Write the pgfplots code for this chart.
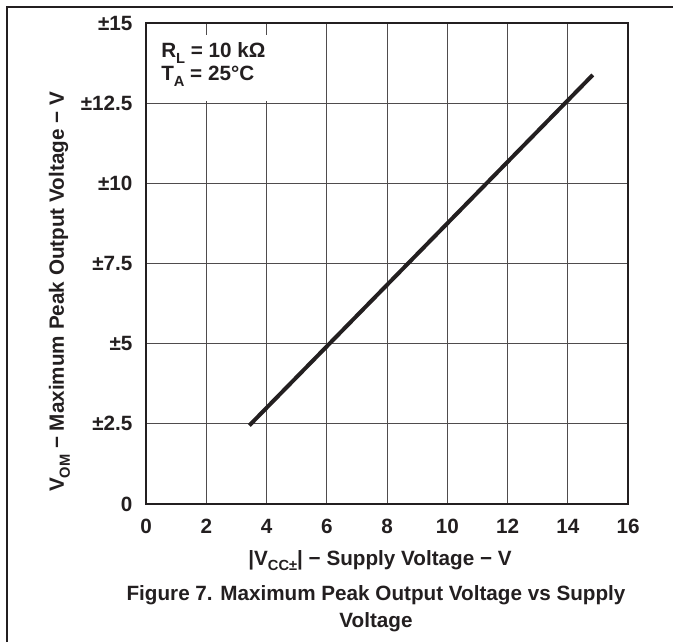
\documentclass[border=0pt]{standalone}
\usepackage{fontspec}
\setmainfont{Liberation Sans}
\usepackage{pgfplots}
\pgfplotsset{compat=1.18}

\newcommand{\sub}[1]{\raisebox{-0.28em}{\fontsize{11}{12}\selectfont #1}}
\newcommand{\lbl}{\fontsize{15.5}{18}\selectfont\bfseries}
\definecolor{ink}{HTML}{231F20}

\begin{document}
\begin{tikzpicture}
\useasboundingbox (-109.5pt,-103.5pt) rectangle (395.25pt,378pt);
% page frame (open on the right and bottom)
\draw[line width=1.1pt, ink] (-104.25pt,-103.5pt) -- (-104.25pt,372.75pt) -- (395.25pt,372.75pt);

\begin{axis}[
  at={(0,0)}, anchor=south west,
  scale only axis,
  width=361.5pt, height=360.75pt,
  xmin=0, xmax=16, ymin=0, ymax=15,
  xtick={0,2,...,16},
  ytick={0,2.5,5,7.5,10,12.5,15},
  xticklabels={0,2,4,6,8,10,12,14,16},
  yticklabels={0,±2.5,±5,±7.5,±10,±12.5,±15},
  grid=major,
  major grid style={line width=0.75pt, color=ink!80},
  major tick length=0pt,
  axis line style={line width=1.9pt, color=ink},
  ticklabel style={font=\lbl, text=ink},
  xticklabel style={anchor=north, inner sep=0pt, yshift=-11pt},
  yticklabel style={anchor=east, inner sep=0pt, xshift=-10pt},
]
% blank panel behind the test conditions
\fill[white] (axis cs:0.06,12.56) rectangle (axis cs:5,14.62);
\addplot[line width=3pt, color=ink] coordinates {(3.43,2.45) (14.83,13.38)};
\end{axis}

% test conditions
\node[anchor=base west, inner sep=0pt, text=ink, font=\lbl] at (11.25pt,334.9pt) {R\sub{L} = 10 kΩ};
\node[anchor=base west, inner sep=0pt, text=ink, font=\lbl] at (11.25pt,317.6pt) {T\sub{A} = 25°C};

% axis titles
\node[anchor=base, inner sep=0pt, text=ink, font=\lbl] at (175.5pt,-45.75pt) {|V\sub{CC±}| − Supply Voltage − V};
\node[anchor=base, inner sep=0pt, text=ink, font=\lbl, rotate=90] at (-61.5pt,159pt)
  {V\sub{OM} − Maximum Peak Output Voltage − V};

% figure caption
\node[anchor=base, inner sep=0pt, text=ink, font=\lbl] at (172.5pt,-72pt) {Figure 7. Maximum Peak Output Voltage vs Supply};
\node[anchor=base, inner sep=0pt, text=ink, font=\lbl] at (172.5pt,-92.25pt) {Voltage};
\end{tikzpicture}
\end{document}
